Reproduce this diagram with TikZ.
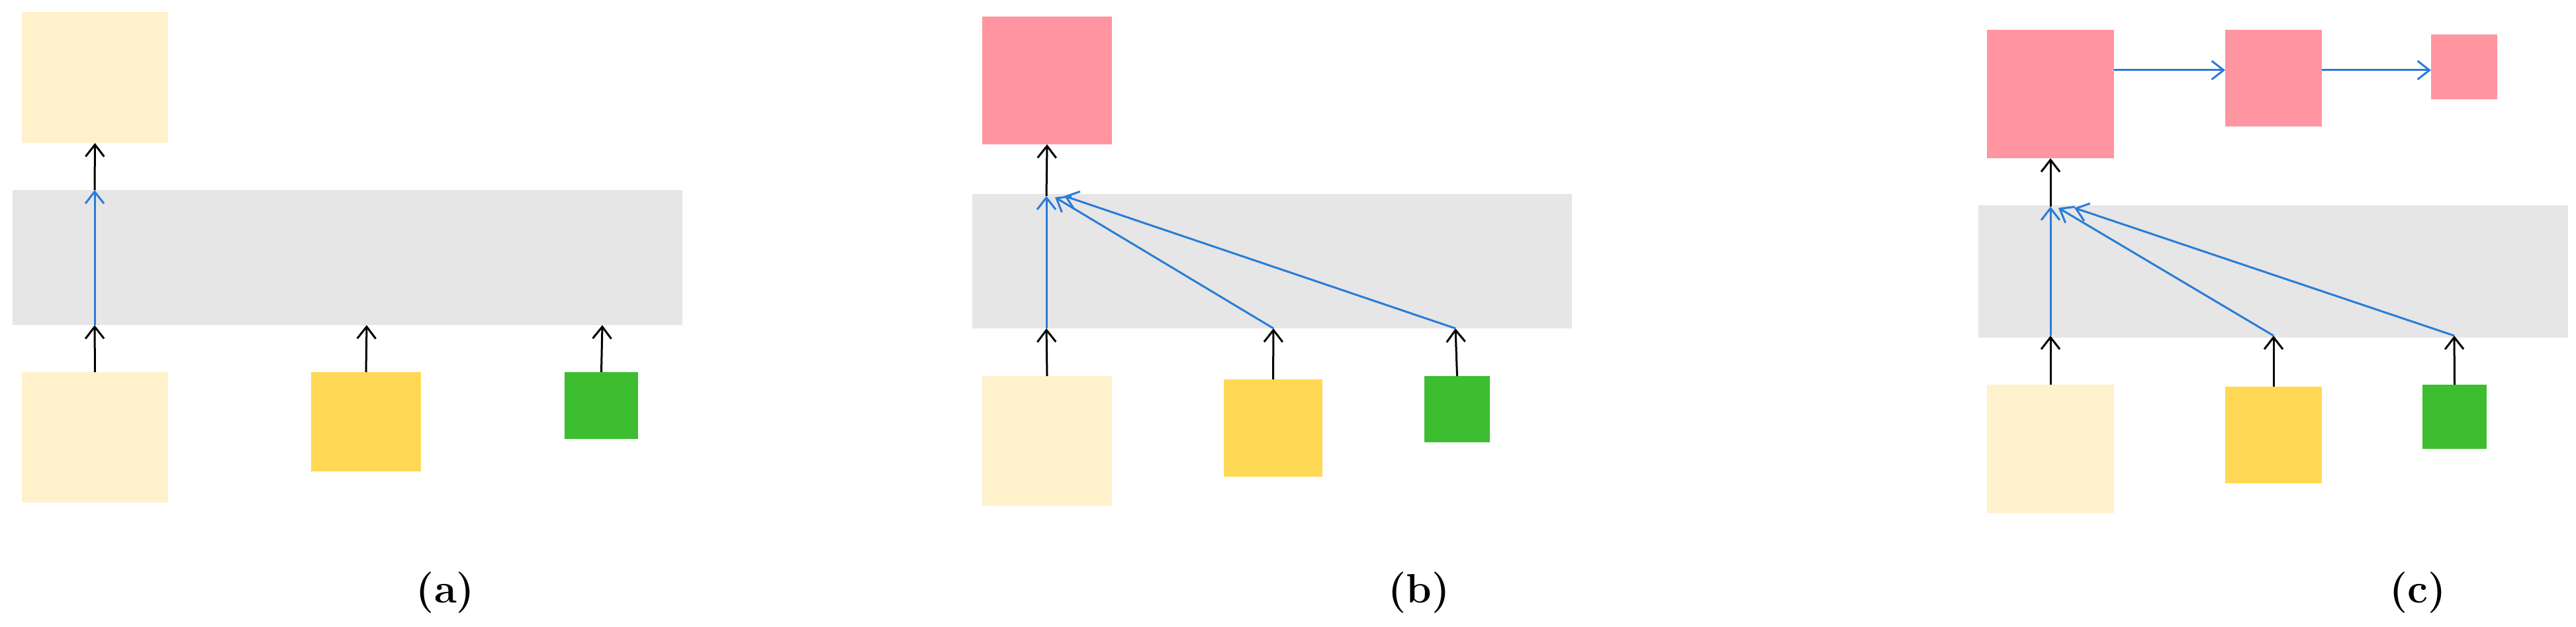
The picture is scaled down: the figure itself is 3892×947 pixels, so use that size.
\documentclass[tikz,border=0pt]{standalone}
\usetikzlibrary{arrows.meta}
\definecolor{cream}{HTML}{FFF1CC}
\definecolor{yel}{HTML}{FFD955}
\definecolor{grn}{HTML}{3DBE30}
\definecolor{pnk}{HTML}{FF95A0}
\definecolor{gry}{HTML}{E6E6E6}
\definecolor{blu}{HTML}{2B7BD6}
\begin{document}
\begin{tikzpicture}[x=1pt,y=-1pt,
  box/.style={draw=none,inner sep=0pt,outer sep=0pt,rectangle},
  arr/.style={line width=3pt,-{Straight Barb[length=18pt,width=28pt,line width=3pt]}},
  blk/.style={arr,black},
  bl/.style={arr,blu},
  lab/.style={font=\fontsize{62}{70}\selectfont\bfseries}]
\useasboundingbox (0,0) rectangle (3892,947);
% ---------- (a)
\fill[gry] (19,287) rectangle (1031,491);
\node[box,fill=cream,minimum width=221pt,minimum height=198pt] (aT) at (143.5,117) {};
\node[box,fill=cream,minimum width=221pt,minimum height=197pt] (aL) at (143.5,660.5) {};
\node[box,fill=yel,minimum width=166pt,minimum height=150pt] (aY) at (553,637) {};
\node[box,fill=grn,minimum width=111pt,minimum height=101pt] (aG) at (908.5,612.5) {};
\coordinate (a1b) at (143,491); \coordinate (a1t) at (143,287);
\coordinate (a2b) at (554,491); \coordinate (a3b) at (910,491);
\draw[blk] (aL.north) -- (a1b);
\draw[bl] (a1b) -- (a1t);
\draw[blk] (a1t) -- (aT.south);
\draw[blk] (aY.north) -- (a2b);
\draw[blk] (aG.north) -- (a3b);
\node[lab] (la) at (673,895) {(a)};
% ---------- (b)
\fill[gry] (1469,293) rectangle (2375,496);
\node[box,fill=pnk,minimum width=196pt,minimum height=193pt] (bT) at (1582,121.5) {};
\node[box,fill=cream,minimum width=196pt,minimum height=196pt] (bL) at (1582,666) {};
\node[box,fill=yel,minimum width=149pt,minimum height=147pt] (bY) at (1923.5,646.5) {};
\node[box,fill=grn,minimum width=99pt,minimum height=100pt] (bG) at (2201.5,618) {};
\coordinate (b1b) at (1581,496); \coordinate (b1t) at (1581,296);
\coordinate (b2b) at (1924,496); \coordinate (b3b) at (2199,496);
\coordinate (b2t) at (1594,298); \coordinate (b3t) at (1608,296);
\draw[blk] (bL.north) -- (b1b);
\draw[bl] (b1b) -- (b1t);
\draw[blk] (b1t) -- (bT.south);
\draw[blk] (bY.north) -- (b2b);
\draw[blk] (bG.north) -- (b3b);
\draw[bl] (b2b) -- (b2t);
\draw[bl] (b3b) -- (b3t);
\node[lab] (lb) at (2144,895) {(b)};
% ---------- (c)
\fill[gry] (2989,310) rectangle (3880,510);
\node[box,fill=pnk,minimum width=192pt,minimum height=194pt] (cT1) at (3098,142) {};
\node[box,fill=pnk,minimum width=146pt,minimum height=146pt] (cT2) at (3435,118) {};
\node[box,fill=pnk,minimum width=100pt,minimum height=98pt] (cT3) at (3723,101) {};
\node[box,fill=cream,minimum width=192pt,minimum height=194pt] (cL) at (3098,678) {};
\node[box,fill=yel,minimum width=146pt,minimum height=146pt] (cY) at (3435,657) {};
\node[box,fill=grn,minimum width=97pt,minimum height=97pt] (cG) at (3708.5,629.5) {};
\coordinate (c1b) at (3098,507); \coordinate (c1t) at (3098,312);
\coordinate (c2b) at (3435,507); \coordinate (c3b) at (3708,507);
\coordinate (c2t) at (3110,314); \coordinate (c3t) at (3134,314);
\draw[blk] (cL.north) -- (c1b);
\draw[bl] (c1b) -- (c1t);
\draw[blk] (c1t) -- (cT1.south);
\draw[blk] (cY.north) -- (c2b);
\draw[blk] (cG.north) -- (c3b);
\draw[bl] (c2b) -- (c2t);
\draw[bl] (c3b) -- (c3t);
\draw[bl] (cT1.east|-0,106) -- (cT2.west|-0,106);
\draw[bl] (cT2.east|-0,106) -- (cT3.west|-0,106);
\node[lab] (lc) at (3653,895) {(c)};
\end{tikzpicture}
\end{document}
